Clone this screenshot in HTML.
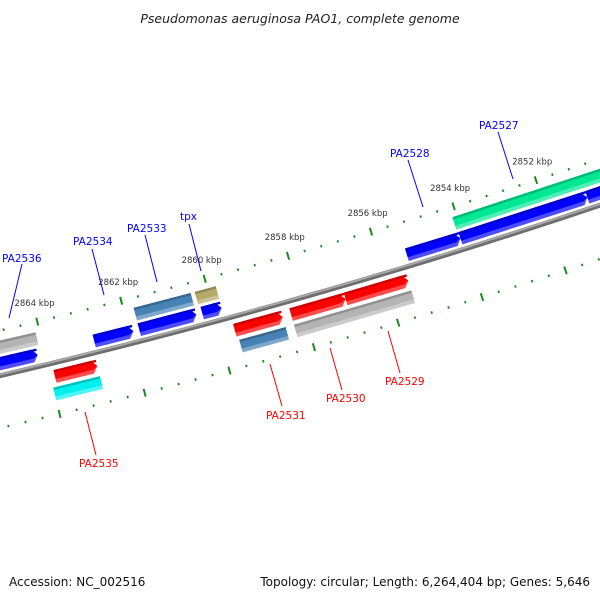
<!DOCTYPE html>
<html><head><meta charset="utf-8">
<style>
html,body{margin:0;padding:0;background:#fff;}
svg{display:block;font-family:"DejaVu Sans","Liberation Sans",sans-serif;}
</style></head>
<body>
<svg id="map" width="600" height="600" viewBox="0 0 600 600" xmlns="http://www.w3.org/2000/svg">
<rect width="600" height="600" fill="#fff"/>
<text x="300" y="23" text-anchor="middle" font-size="12.5" font-style="italic" fill="#222">Pseudomonas aeruginosa PAO1, complete genome</text>
<g id="ticks"></g>
<g id="feats"></g>
<g id="labels"></g>
<text x="9" y="586" font-size="12" fill="#111">Accession: NC_002516</text>
<text x="590" y="586" text-anchor="end" font-size="12" fill="#111">Topology: circular; Length: 6,264,404 bp; Genes: 5,646</text>
</svg>
<script>
// ---- data (kbp) ----
const fwdInnerStart = [2866.5, 2862.83, 2861.76, 2860.26, 2855.36, 2854.07, 2851.0];
const fwdInnerEnd   = [2864.17, 2861.9, 2860.4, 2859.8, 2854.07, 2851.0, 2849.5];
const fwdInnerColor = ["#0000ff","#0000ff","#0000ff","#0000ff","#0000ff","#0000ff","#0000ff"];
const fwdOuterStart = [2866.5, 2861.76, 2860.3, 2854.1];
const fwdOuterEnd   = [2864.1, 2860.4, 2859.8, 2849.5];
const fwdOuterColor = ["#b4b4b4","#4682b4","#b5aa6a","#00e896"];
const revInnerStart = [2863.9, 2859.64, 2858.3, 2857.0];
const revInnerEnd   = [2862.9, 2858.5, 2857.0, 2855.5];
const revInnerColor = ["#ff0000","#ff0000","#ff0000","#ff0000"];
const revOuterStart = [2864.0, 2859.6, 2858.3];
const revOuterEnd   = [2862.9, 2858.5, 2855.5];
const revOuterColor = ["#00f0f0","#4682b4","#b4b4b4"];
const tickLabels = [2864, 2862, 2860, 2858, 2856, 2854, 2852];
const viewStart = 2867.5, viewEnd = 2849;

// ---- geometry ----
const R = 6600;
const CX = 300 - 0.273 * R, CY = 298 - 0.962 * R;
const theta0 = Math.atan2(298 - CY, 300 - CX);
const K = 43.5 / R; // rad per kbp
function ang(p){ return theta0 + (p - 2858) * K; }
function pt(p, r){ const a = ang(p); return [CX + r*Math.cos(a), CY + r*Math.sin(a)]; }
const NS = "http://www.w3.org/2000/svg";
function mk(tag, attrs, parent){ const e = document.createElementNS(NS, tag); for (const k in attrs) e.setAttribute(k, attrs[k]); parent.appendChild(e); return e; }

const tickG = document.getElementById('ticks');
const featG = document.getElementById('feats');

function arcPath(p1, p2, r){
  let d = ''; const n = 40;
  for (let i = 0; i <= n; i++){ const p = p1 + (p2-p1)*i/n; const q = pt(p, r); d += (i ? 'L' : 'M') + q[0].toFixed(2) + ' ' + q[1].toFixed(2); }
  return d;
}
const bb1 = mk('path', {d: arcPath(viewStart, viewEnd, R), stroke: '#6e6e6e', 'stroke-width': 5, fill: 'none'}, featG);


const bb2 = mk('path', {d: arcPath(viewStart, viewEnd, R - 1.2), stroke: '#a8a8a8', 'stroke-width': 2, fill: 'none'}, featG);



// ticks
const rOut = R - 44, rIn = R + 51;
for (let i = 0; ; i++){
  const p = 2870 - i*0.4; if (p < viewEnd) break;
  const major = Math.abs(p/2 - Math.round(p/2)) < 0.01;
  [rOut, rIn].forEach(rr => {
    const h = major ? 4 : 1.2;
    const a = pt(p, rr - h), b = pt(p, rr + h);
    const t = mk('line', {x1: a[0], y1: a[1], x2: b[0], y2: b[1], stroke: '#1a8a1a', 'stroke-width': major ? 2 : 1.8}, tickG);
    
    
  });
}
tickLabels.forEach(v => {
  const q = pt(v, rOut - 12);
  const t = mk('text', {x: q[0] - 20, y: q[1] - 4, 'font-size': 8.5, fill: '#333'}, tickG);
  t.textContent = v + ' kbp';
  
  
});

// features
function shade(hex, f){
  const n = parseInt(hex.slice(1), 16); let r = n>>16, g = (n>>8)&255, b = n&255;
  if (f < 0){ r = r*(1+f); g = g*(1+f); b = b*(1+f); } else { r = r+(255-r)*f; g = g+(255-g)*f; b = b+(255-b)*f; }
  return 'rgb(' + [r,g,b].map(x => Math.round(x)).join(',') + ')';
}
function band(p1, p2, r1, r2, arrowEnd, color, name, arrowLen, rTip){
  const dir = p2 > p1 ? 1 : -1;
  const aL = arrowLen / 43.5;
  let pts;
  if (arrowEnd){
    const pb = p2 - dir*aL;
    pts = [pt(p1, r1), pt(pb, r1), pt(p2, rTip), pt(pb, r2), pt(p1, r2)];
  } else {
    pts = [pt(p1, r1), pt(p2, r1), pt(p2, r2), pt(p1, r2)];
  }
  const e = mk('polygon', {points: pts.map(q => q[0].toFixed(2)+','+q[1].toFixed(2)).join(' '), fill: color}, featG);
  
  
  return e;
}
function feature(s, e, r1, r2, color, name, arrow){
  const w = r2 - r1, rm = (r1 + r2) / 2;
  band(s, e, r1, r2, arrow, shade(color, 0.3), name, 5, rm);
  band(s, e, r1, r2 - w*0.3, arrow, color, name + '-body', 5, rm);
  band(s, e, r1, r1 + w*0.18, false, shade(color, -0.2), name + '-edge', 5, rm);
}
for (let i = 0; i < fwdInnerStart.length; i++) feature(fwdInnerStart[i], fwdInnerEnd[i], R - 18, R - 5, fwdInnerColor[i], 'forward-gene-' + i, true);
for (let i = 0; i < fwdOuterStart.length; i++) feature(fwdOuterStart[i], fwdOuterEnd[i], R - 34, R - 21, fwdOuterColor[i], 'forward-outer-gene-' + i, false);
for (let i = 0; i < revInnerStart.length; i++) feature(revInnerStart[i], revInnerEnd[i], R + 7, R + 20, revInnerColor[i], 'reverse-gene-' + i, true);
for (let i = 0; i < revOuterStart.length; i++) feature(revOuterStart[i], revOuterEnd[i], R + 24, R + 37, revOuterColor[i], 'reverse-outer-gene-' + i, false);

// labels
const labG = document.getElementById('labels');
const labelText = ["PA2536","PA2534","PA2533","tpx","PA2528","PA2527","PA2531","PA2530","PA2529","PA2535"];
const labelColor = ["#0000ff","#0000ff","#0000ff","#0000ff","#0000ff","#0000ff","#ff0000","#ff0000","#ff0000","#ff0000"];
const labelPos = [[2,262],[73,245],[127,232],[180,220],[390,157],[479,129],[266,419],[326,402],[385,385],[79,467]];
const labelLine = [[22,264,9,318],[92,249,104,295],[145,235,157,282],[189,224,201,271],[408,160,423,207],[498,132,513,179],[282,406,270,364],[342,390,330,348],[400,373,388,331],[96,455,85,412]];
labelText.forEach((t, i) => {
  const l = labelLine[i];
  const ln = mk('line', {x1: l[0], y1: l[1], x2: l[2], y2: l[3], stroke: labelColor[i], 'stroke-width': 1}, labG);
  
  
  const tx = mk('text', {x: labelPos[i][0], y: labelPos[i][1], 'font-size': 10.5, fill: labelColor[i]}, labG);
  tx.textContent = t;
  
  
});
</script>
</body></html>
